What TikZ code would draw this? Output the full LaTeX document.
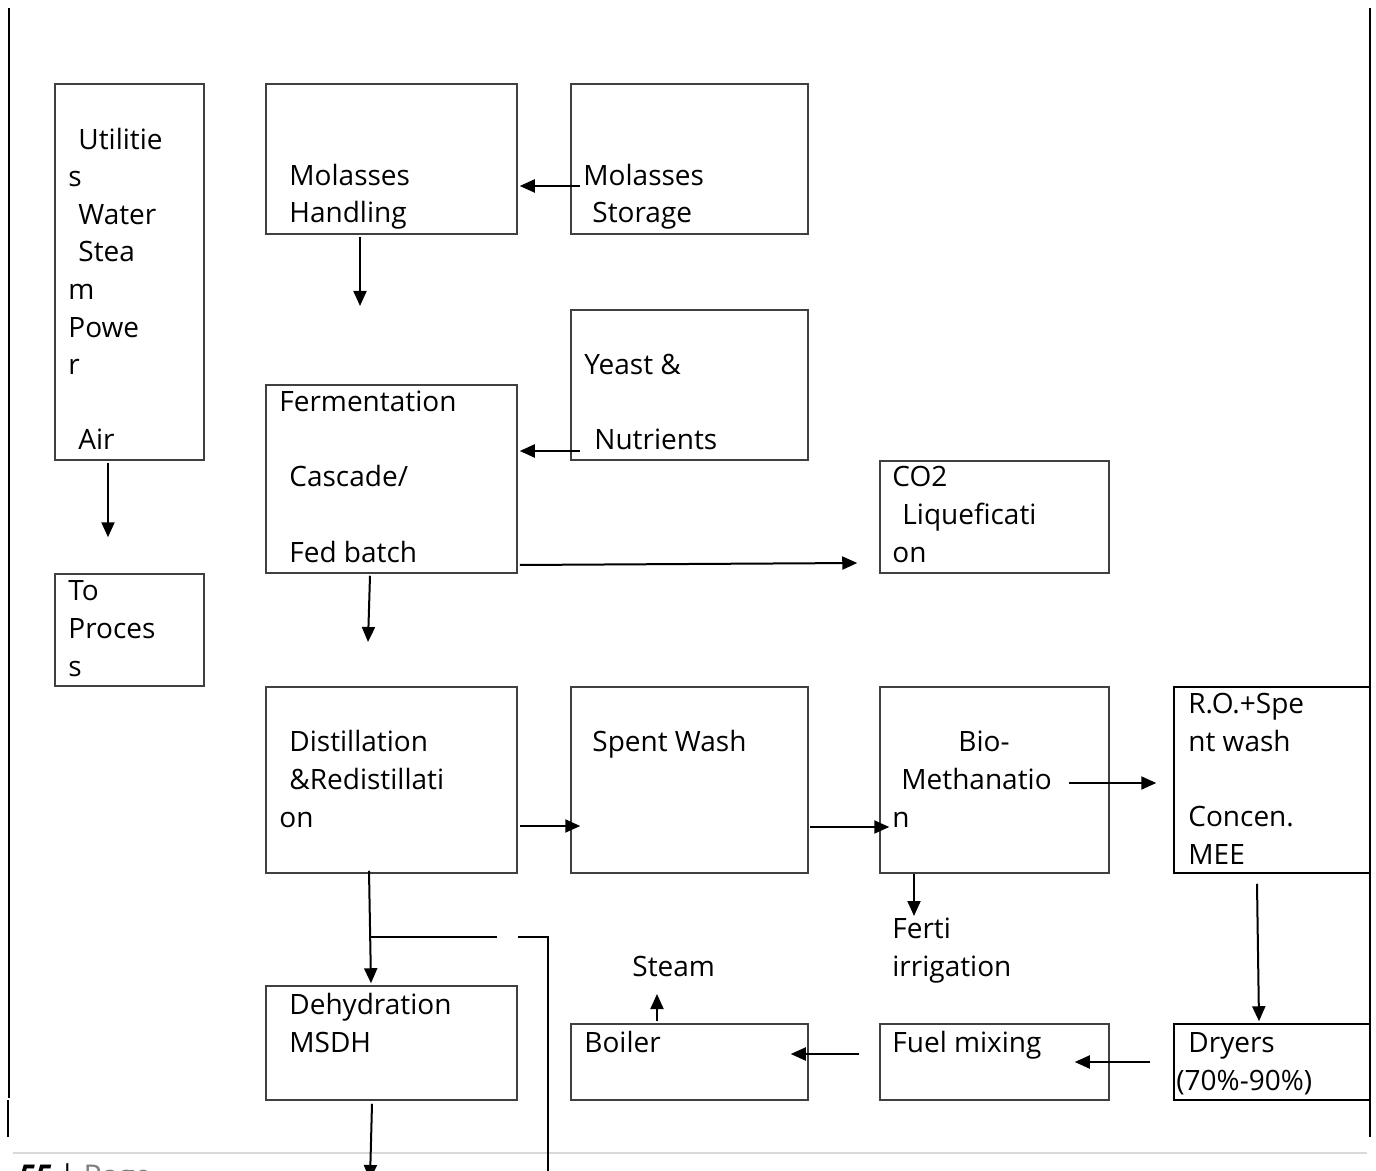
\documentclass[tikz,border=0pt]{standalone}
\usepackage{fontspec}
\setmainfont{Open Sans}
\usepackage{xcolor}
\usetikzlibrary{arrows.meta,calc,fit}

\tikzset{
  box/.style={draw=black!75,line width=0.75pt,inner sep=0pt},
  txt/.style={anchor=base west,inner sep=0pt,align=left,font=\fontsize{14}{18.8}\selectfont},
  arr/.style={line width=1pt,-{Triangle[length=7.5pt,width=6.5pt]}},
  wire/.style={line width=1pt},
}

\begin{document}
\begin{tikzpicture}[x=0.5pt,y=-0.5pt]
  \useasboundingbox (0,0) rectangle (1376,1171);
  % page frame and footer
  \draw[line width=0.75pt] (9,8) -- (9,1098);
  \draw[line width=0.75pt] (8,1100) -- (8,1137);
  \draw[line width=0.75pt] (1370,8) -- (1370,1137);
  \draw[black!15,line width=1pt] (13,1153) -- (1367,1153);
  \node[anchor=base west,inner sep=0pt,font=\fontsize{15}{16}\selectfont] (pagenum) at (18,1186)
    {\textbf{\textit{55}} | {\color{gray}Page}};

  % boxes
  \node[box,fit={(55,84) (204,460)}] (util) {};
  \node[box,fit={(55,574) (204,686)}] (toproc) {};
  \node[box,fit={(266,84) (517,234)}] (hand) {};
  \node[box,fit={(571,84) (808,234)}] (stor) {};
  \node[box,fit={(571,310) (808,460)}] (yeast) {};
  \node[box,fit={(266,385) (517,573)}] (ferm) {};
  \node[box,fit={(880,461) (1109,573)}] (co2) {};
  \node[box,fit={(266,687) (517,873)}] (dist) {};
  \node[box,fit={(571,687) (808,873)}] (spent) {};
  \node[box,fit={(880,687) (1109,873)}] (bio) {};
  \node[box,draw=black,fit={(1174,687) (1370,873)}] (ro) {};
  \node[box,fit={(266,986) (517,1100)}] (dehy) {};
  \node[box,fit={(571,1024) (808,1100)}] (boil) {};
  \node[box,fit={(880,1024) (1109,1100)}] (fuel) {};
  \node[box,draw=black,fit={(1174,1024) (1370,1100)}] (dry) {};

  % box texts (placed by the baseline of their last line)
  \node[txt] (utiltxt) at (68,450) {\hspace*{5pt}Utilitie\\s\\\hspace*{5pt}Water\\\hspace*{5pt}Stea\\m\\Powe\\r\\~\\\hspace*{5pt}Air};
  \node[txt] (toproctxt) at (68,676) {To\\Proces\\s};
  \node[txt] (handtxt) at (289,223) {Molasses\\Handling};
  \node[txt] (stortxt) at (583,223) {Molasses\\\hspace*{4.5pt}Storage};
  \node[txt] (yeasttxt) at (584,450) {Yeast \&\\~\\\hspace*{5pt}Nutrients};
  \node[txt] (fermtxt) at (279,562) {Fermentation\\~\\\hspace*{5pt}Cascade/\\~\\\hspace*{5pt}Fed batch};
  \node[txt] (co2txt) at (892,562) {CO2\\\hspace*{5pt}Liqueficati\\on};
  \node[txt] (disttxt) at (279,827) {\hspace*{5pt}Distillation\\\hspace*{5pt}\&Redistillati\\on};
  \node[txt] (spenttxt) at (592,751) {Spent Wash};
  \node[txt] (biotxt) at (892,827) {\hspace*{33pt}Bio-\\\hspace*{4.5pt}Methanatio\\n};
  \node[txt] (rotxt) at (1188,864) {R.O.+Spe\\nt wash\\~\\Concen.\\MEE};
  \node[txt] (fertitxt) at (892,976) {Ferti\\irrigation};
  \node[txt] (steamtxt) at (632,976) {Steam};
  \node[txt] (dehytxt) at (289,1052) {Dehydration\\MSDH};
  \node[txt] (boiltxt) at (584,1052) {Boiler};
  \node[txt] (fueltxt) at (892,1052) {Fuel mixing};
  \node[txt] (drytxt) at (1176,1090) {\hspace*{6pt}Dryers\\(70\%-90\%)};

  % free arrow ends
  \coordinate (handout) at (360,306);
  \coordinate (fermout) at (368,642);
  \coordinate (bioout) at (914,916);
  \coordinate (steamin) at (657,994);
  \coordinate (dehyout) at (370,1180);
  \coordinate (split) at (370,937);
  \coordinate (splitend) at (497,937);
  \coordinate (bypass) at (518,937);
  \coordinate (bypasscorner) at (548,937);
  \coordinate (bypassout) at (548,1180);

  % arrows
  \draw[arr] ([shift={(-21.5,2)}]util.south) -- ([shift={(-21.5,-36)}]toproc.north);
  \draw[arr] ([shift={(10,27)}]stor.west) -- ([shift={(2,27)}]hand.east);
  \draw[arr] ([shift={(-31.5,2)}]hand.south) -- (handout);
  \draw[arr] ([shift={(10,66)}]yeast.west) -- ([shift={(2,-28)}]ferm.east);
  \draw[arr] ([shift={(2,86)}]ferm.east) -- ([shift={(-22,46)}]co2.west);
  \draw[arr] ([shift={(-21.5,2)}]ferm.south) -- (fermout);
  \draw[arr] ([shift={(2,46)}]dist.east) -- ([shift={(10,46)}]spent.west);
  \draw[arr] ([shift={(1,47)}]spent.east) -- ([shift={(10,47)}]bio.west);
  \draw[arr] ([shift={(74.5,3)}]bio.center) -- ([shift={(-17,3)}]ro.west);
  \draw[arr] ([shift={(-80.5,0)}]bio.south) -- (bioout);
  \draw[arr] ([shift={(-15,10)}]ro.south) -- ([shift={(-13,-2)}]dry.north);
  \draw[arr] ([shift={(-23,0)}]dry.west) -- ([shift={(-35,0)}]fuel.east);
  \draw[arr] ([shift={(-20,-8)}]fuel.west) -- ([shift={(-18,-8)}]boil.east);
  \draw[arr] ([shift={(-32.5,-2)}]boil.north) -- (steamin);
  \draw[arr] ([shift={(-22.5,-3)}]dist.south) -- ([shift={(-20.5,-2)}]dehy.north);
  \draw[arr] ([shift={(-19.5,3)}]dehy.south) -- (dehyout);
  % branch below distillation
  \draw[wire] (split) -- (splitend);
  \draw[wire] (bypass) -- (bypasscorner) -- (bypassout);
\end{tikzpicture}
\end{document}
